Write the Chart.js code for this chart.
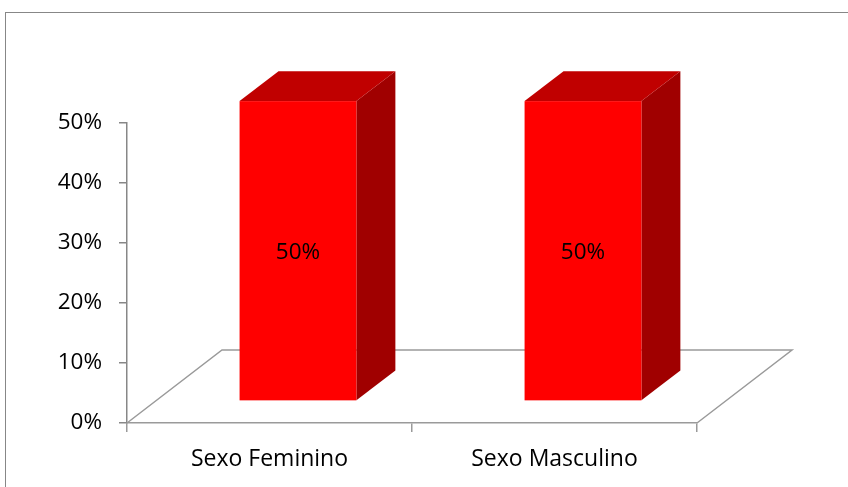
<!DOCTYPE html>
<html>
<head>
<meta charset="utf-8">
<script src="https://cdn.jsdelivr.net/npm/chart.js@4.4.1/dist/chart.umd.min.js"></script>
<style>
  html, body { margin: 0; padding: 0; background: #fff; }
  #wrap { width: 848px; height: 487px; position: relative; }
</style>
</head>
<body>
<div id="wrap"><canvas id="myChart" width="848" height="487"></canvas></div>
<script>
const categorias = ["Sexo Feminino", "Sexo Masculino"];
const valores = [50, 50];
const yMin = 0;
const yMax = 50;
const yPasso = 10;

// profundidade do "chão" 3D e posição da barra dentro dele
const chaoDx = 95, chaoDy = -73;
const barraIni = 0.3, barraFim = 0.71;

const fonte = "'Open Sans', sans-serif";

const plugin3d = {
  id: "plugin3d",
  beforeDraw(chart) {
    const ctx = chart.ctx;
    ctx.save();
    ctx.strokeStyle = "#878787";
    ctx.lineWidth = 1;
    ctx.strokeRect(5.5, 12.5, 900, 600);
    ctx.restore();
  },
  beforeDatasetsDraw(chart) {
    const ctx = chart.ctx;
    const a = chart.chartArea;
    ctx.save();
    ctx.strokeStyle = "#9a9a9a";
    ctx.lineWidth = 1.5;
    ctx.beginPath();
    ctx.moveTo(a.left, a.bottom);
    ctx.lineTo(a.left + chaoDx, a.bottom + chaoDy);
    ctx.lineTo(a.right + chaoDx, a.bottom + chaoDy);
    ctx.lineTo(a.right, a.bottom);
    ctx.stroke();
    ctx.restore();
  },
  afterDatasetsDraw(chart) {
    const ctx = chart.ctx;
    const meta = chart.getDatasetMeta(0);
    ctx.save();
    meta.data.forEach((bar, i) => {
      const ox = chaoDx * barraIni, oy = chaoDy * barraIni;
      const dx = chaoDx * (barraFim - barraIni), dy = chaoDy * (barraFim - barraIni);
      const x0 = bar.x - bar.width / 2 + ox;
      const x1 = bar.x + bar.width / 2 + ox;
      const yt = bar.y + oy;
      const yb = bar.base + oy;

      // lado
      ctx.fillStyle = "#a00000";
      ctx.beginPath();
      ctx.moveTo(x1, yt);
      ctx.lineTo(x1 + dx, yt + dy);
      ctx.lineTo(x1 + dx, yb + dy);
      ctx.lineTo(x1, yb);
      ctx.closePath();
      ctx.fill();

      // topo
      ctx.fillStyle = "#c00000";
      ctx.beginPath();
      ctx.moveTo(x0, yt);
      ctx.lineTo(x0 + dx, yt + dy);
      ctx.lineTo(x1 + dx, yt + dy);
      ctx.lineTo(x1, yt);
      ctx.closePath();
      ctx.fill();

      // frente
      ctx.fillStyle = "#ff0000";
      ctx.fillRect(x0, yt, x1 - x0, yb - yt);

      // rótulo
      ctx.fillStyle = "#000";
      ctx.font = "22.5px " + fonte;
      ctx.textAlign = "center";
      ctx.textBaseline = "middle";
      ctx.fillText(valores[i] + "%", (x0 + x1) / 2, (yt + yb) / 2 + 2);
    });
    ctx.restore();
  },
};

const ctx = document.getElementById("myChart").getContext("2d");
const myChart = new Chart(ctx, {
  type: "bar",
  data: {
    labels: categorias,
    datasets: [
      {
        data: valores,
        backgroundColor: "rgba(0,0,0,0)",
        borderWidth: 0,
        categoryPercentage: 1,
        barPercentage: 0.41,
      },
    ],
  },
  options: {
    responsive: false,
    animation: false,
    events: [],
    layout: { padding: { left: 0, top: 123, right: 151, bottom: 0 } },
    plugins: { legend: { display: false }, tooltip: { enabled: false } },
    scales: {
      x: {
        afterFit: (s) => { s.height = 64; },
        border: { color: "#9a9a9a", width: 1.5 },
        grid: { drawOnChartArea: false, color: "#9a9a9a", lineWidth: 1.5, tickLength: 9, offset: true },
        ticks: { color: "#000", font: { family: fonte, size: 23 }, padding: 14 },
      },
      y: {
        min: yMin,
        max: yMax,
        afterFit: (s) => { s.width = 127; },
        border: { color: "#878787", width: 1.5 },
        grid: { drawOnChartArea: false, color: "#878787", lineWidth: 1.5, tickLength: 8 },
        ticks: {
          stepSize: yPasso,
          color: "#000",
          font: { family: fonte, size: 22.5 },
          padding: 17,
          callback: (v) => v + "%",
        },
      },
    },
  },
  plugins: [plugin3d],
});
</script>
</body>
</html>
